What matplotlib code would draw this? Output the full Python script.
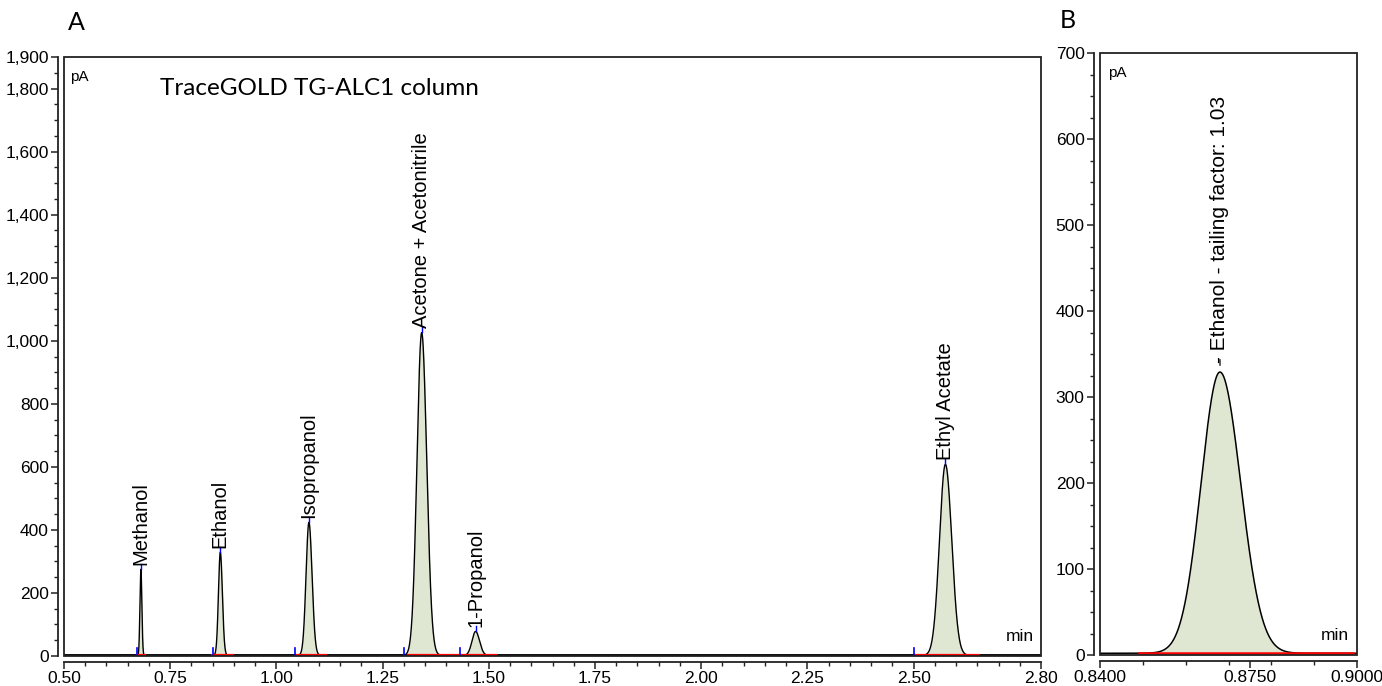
import matplotlib.pyplot as plt
import numpy as np
from matplotlib.patches import Rectangle
from matplotlib.ticker import FixedLocator, MultipleLocator, FuncFormatter

# peak table (time in min, height in pA)
peak_names = ["Methanol", "Ethanol", "Isopropanol", "Acetone + Acetonitrile", "1-Propanol", "Ethyl Acetate"]
peak_rt = [0.681, 0.868, 1.0766, 1.342, 1.469, 2.575]
peak_height = [273, 327, 422, 1024, 76, 606]
peak_sigma = [0.0022, 0.0044, 0.0068, 0.0110, 0.0085, 0.0140]
peak_tail = [1.05, 1.10, 1.08, 1.08, 1.08, 1.06]
peak_start = [0.6715, 0.850, 1.0435, 1.2993, 1.433, 2.502]
int_start = [0.6715, 0.849, 1.049, 1.309, 1.4335, 2.504]
int_end = [0.691, 0.899, 1.116, 1.430, 1.517, 2.654]
baseline = 2.0

ethanol_label = "- Ethanol - tailing factor: 1.03"
title_a = "TraceGOLD TG-ALC1 column"

xticks_a = [0.50, 0.75, 1.00, 1.25, 1.50, 1.75, 2.00, 2.25, 2.50, 2.80]
yticks_a = [0, 200, 400, 600, 800, 1000, 1200, 1400, 1600, 1800, 1900]
xticks_b = [0.8400, 0.8750, 0.9000]
yticks_b = [0, 100, 200, 300, 400, 500, 600, 700]

FILL = "#dfe7d2"
TICKFONT = "Liberation Sans"
TITLEFONT = "Lato"


def signal(t):
    y = np.full_like(t, baseline)
    for rt, h, s, tf in zip(peak_rt, peak_height, peak_sigma, peak_tail):
        sd = np.where(t < rt, s, s * tf)
        y += h * np.exp(-0.5 * ((t - rt) / sd) ** 2)
    return y


def style_axes(ax):
    for side in ["left", "bottom"]:
        ax.spines[side].set_position(("outward", 4))
        ax.spines[side].set_linewidth(1.3)
        ax.spines[side].set_color("#222222")
    for side in ["top", "right"]:
        ax.spines[side].set_visible(False)
    ax.add_patch(Rectangle((0, 0), 1, 1, transform=ax.transAxes, fill=False,
                           edgecolor="#222222", lw=1.3, clip_on=False, zorder=5))
    ax.tick_params(which="major", length=5, width=1.1, color="#222222",
                   labelsize=12.5, pad=2)
    ax.tick_params(which="minor", length=3, width=1.0, color="#222222")
    ax.tick_params(axis="x", pad=1.5)
    for lab in ax.get_xticklabels() + ax.get_yticklabels():
        lab.set_fontfamily(TICKFONT)


fig = plt.figure(figsize=(13.82, 6.86), dpi=100)

# ---- panel A: full chromatogram
axA = fig.add_axes([64 / 1382, 1 - 656 / 686, (1041 - 64) / 1382, (656 - 57) / 686])
t = np.linspace(0.5, 2.8, 30000)
y = signal(t)
for s, e in zip(int_start, int_end):
    m = (t >= s) & (t <= e)
    axA.fill_between(t[m], baseline, y[m], color=FILL, lw=0, zorder=1)
axA.plot(t, y, color="black", lw=1.0, zorder=3)
axA.plot([0.5, 2.8], [baseline, baseline], color="black", lw=2.0, zorder=2)
for s, e in zip(int_start, int_end):
    axA.plot([s, e], [baseline, baseline], color="red", lw=1.6, zorder=4)
for ps in peak_start:
    axA.plot([ps, ps], [0, 26], color="blue", lw=1.2, zorder=4)
for name, rt, h in zip(peak_names, peak_rt, peak_height):
    axA.plot([rt, rt], [h + 4, h + 18], color="blue", lw=1.0, zorder=4)
    axA.text(rt, h + 16, name, rotation=90, ha="center", va="bottom",
             fontsize=14.5, family=TICKFONT, zorder=6)

axA.set_xlim(0.5, 2.8)
axA.set_ylim(0, 1900)
axA.xaxis.set_major_locator(FixedLocator(xticks_a))
axA.xaxis.set_minor_locator(MultipleLocator(0.05))
axA.yaxis.set_major_locator(FixedLocator(yticks_a))
axA.yaxis.set_minor_locator(MultipleLocator(50))
axA.xaxis.set_major_formatter(FuncFormatter(lambda v, p: f"{v:.2f}"))
axA.yaxis.set_major_formatter(FuncFormatter(lambda v, p: f"{v:,.0f}"))
style_axes(axA)
axA.text(0.006, 0.978, "pA", transform=axA.transAxes, ha="left", va="top",
         fontsize=11, family=TICKFONT)
axA.text(0.993, 0.02, "min", transform=axA.transAxes, ha="right", va="bottom",
         fontsize=12.5, family=TICKFONT)
axA.text(0.098, 0.947, title_a, transform=axA.transAxes, ha="left", va="center",
         fontsize=17.5, family=TITLEFONT)
fig.text(68 / 1382, 1 - 22 / 686, "A", ha="left", va="center", fontsize=18,
         family=TITLEFONT)

# ---- panel B: ethanol zoom
axB = fig.add_axes([1100 / 1382, 1 - 655 / 686, (1357 - 1100) / 1382, (655 - 53) / 686])
tb = np.linspace(0.84, 0.90, 6000)
yb = signal(tb)
m = (tb >= int_start[1]) & (tb <= int_end[1])
axB.fill_between(tb[m], baseline, yb[m], color=FILL, lw=0, zorder=1)
axB.plot(tb, yb, color="black", lw=1.1, zorder=3)
axB.plot([int_start[1], int_end[1]], [baseline, baseline], color="red", lw=1.8, zorder=4)
axB.plot([peak_rt[1], peak_rt[1]], [peak_height[1] + 10, peak_height[1] + 16],
         color="#444444", lw=1.2, zorder=4)
axB.text(peak_rt[1], peak_height[1] + 12, ethanol_label, rotation=90, ha="center",
         va="bottom", fontsize=15, family=TICKFONT, zorder=6)

axB.set_xlim(0.84, 0.90)
axB.set_ylim(0, 700)
axB.xaxis.set_major_locator(FixedLocator(xticks_b))
axB.xaxis.set_minor_locator(MultipleLocator(0.01))
axB.yaxis.set_major_locator(FixedLocator(yticks_b))
axB.yaxis.set_minor_locator(MultipleLocator(25))
axB.xaxis.set_major_formatter(FuncFormatter(lambda v, p: f"{v:.4f}"))
axB.yaxis.set_major_formatter(FuncFormatter(lambda v, p: f"{v:.0f}"))
style_axes(axB)
axB.text(0.03, 0.978, "pA", transform=axB.transAxes, ha="left", va="top",
         fontsize=11, family=TICKFONT)
axB.text(0.97, 0.02, "min", transform=axB.transAxes, ha="right", va="bottom",
         fontsize=12.5, family=TICKFONT)
fig.text(1060 / 1382, 1 - 20 / 686, "B", ha="left", va="center", fontsize=18,
         family=TITLEFONT)

fig.savefig("out.png", dpi=100)
